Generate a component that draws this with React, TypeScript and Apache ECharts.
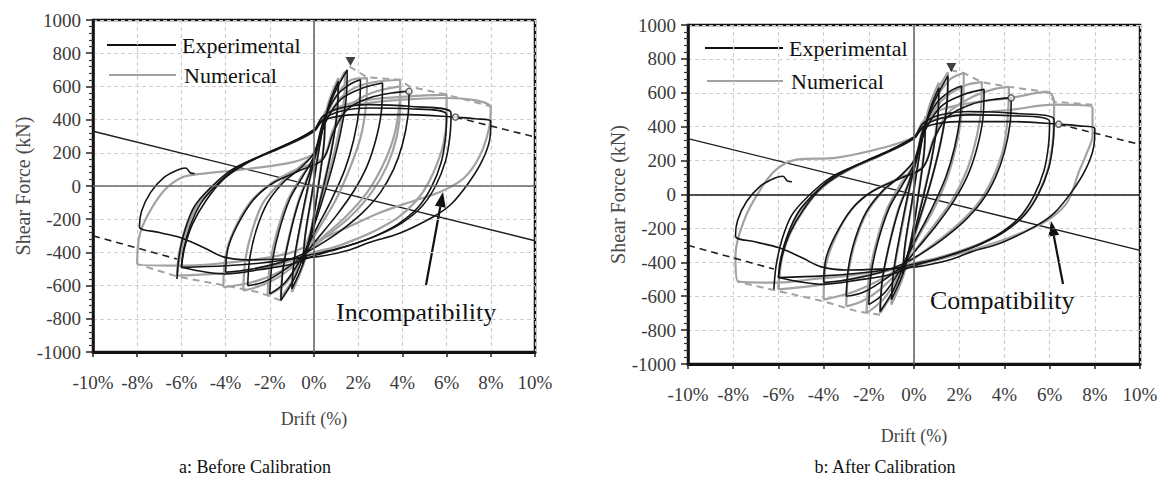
import React, { useEffect, useRef } from "react";
import * as echarts from "echarts";

type Pt = [number, number];

// Axis ticks (drift in %, shear force in kN)
const DRIFT_TICKS = [-10, -8, -6, -4, -2, 0, 2, 4, 6, 8, 10];
const FORCE_TICKS = [-1000, -800, -600, -400, -200, 0, 200, 400, 600, 800, 1000];

// Experimental hysteresis cycles (drift %, force kN)
const EXP_CYCLE_05: Pt[] = [[-0.5, -470], [-0.4, -300], [-0.1, -50], [0.2, 200], [0.5, 430], [0.45, 250], [0.2, 0], [-0.1, -250], [-0.5, -470]];
const EXP_CYCLE_1: Pt[] = [[-1.0, -620], [-0.9, -450], [-0.6, -220], [-0.2, 40], [0.3, 300], [0.7, 500], [1.1, 630], [1.05, 450], [0.8, 220], [0.4, -20], [-0.1, -280], [-0.5, -470], [-1.0, -620]];
const EXP_CYCLE_15: Pt[] = [[-1.5, -690], [-1.4, -500], [-1.1, -300], [-0.7, -100], [-0.2, 80], [0.3, 300], [0.8, 520], [1.5, 700], [1.45, 520], [1.2, 320], [0.8, 100], [0.3, -120], [-0.3, -360], [-0.9, -560], [-1.5, -690]];
const EXP_CYCLE_2: Pt[] = [[-2.0, -650], [-1.9, -470], [-1.6, -280], [-1.1, -80], [-0.5, 60], [0, 180], [0.4, 380], [1.0, 540], [1.6, 610], [2.1, 640], [2.05, 470], [1.8, 280], [1.4, 100], [0.8, -80], [0.1, -260], [-0.6, -440], [-1.3, -580], [-2.0, -650]];
const EXP_CYCLE_3: Pt[] = [[-3.0, -600], [-2.9, -430], [-2.6, -260], [-2.1, -100], [-1.4, 20], [-0.6, 110], [0, 200], [0.5, 380], [1.2, 520], [2.2, 590], [3.1, 620], [3.05, 450], [2.8, 280], [2.4, 120], [1.8, -30], [1.0, -180], [0.2, -310], [-0.5, -420], [-1.5, -520], [-2.3, -580], [-3.0, -600]];
const EXP_CYCLE_4: Pt[] = [[-4.0, -520], [-3.9, -380], [-3.5, -245], [-2.75, -85], [-1.85, 18], [-0.6, 96], [0.4, 160], [0.9, 330], [1.5, 460], [2.5, 530], [3.5, 560], [4.3, 570], [4.25, 420], [4.0, 250], [3.6, 100], [3.0, -40], [2.2, -160], [1.2, -270], [0.3, -350], [-0.5, -410], [-1.5, -460], [-2.8, -500], [-4.0, -520]];
const EXP_CYCLE_6A: Pt[] = [[-6.2, -560], [-6.1, -420], [-5.85, -270], [-5.4, -120], [-4.6, 0], [-3.7, 100], [-2.6, 170], [-1.5, 230], [0, 330], [0.4, 400], [1.2, 450], [2.5, 470], [4.3, 465], [6.0, 430], [5.95, 290], [5.75, 140], [5.3, -10], [4.7, -130], [3.8, -230], [2.8, -300], [1.8, -350], [0.8, -390], [0, -420], [-1.0, -470], [-2.5, -505], [-4.0, -530], [-6.0, -490]];
const EXP_CYCLE_6B: Pt[] = [[-6.0, -490], [-5.9, -380], [-5.6, -240], [-5.1, -100], [-4.3, 20], [-3.5, 110], [-2.5, 175], [-1.4, 240], [0, 340], [0.4, 420], [1.2, 470], [2.5, 490], [4.3, 480], [6.2, 440], [6.15, 300], [5.95, 150], [5.5, 0], [4.9, -120], [4.0, -220], [3.0, -290], [2.0, -340], [1.0, -380], [0, -410], [-1.0, -440], [-2.5, -465], [-4.0, -480], [-6.0, -490]];
const EXP_CYCLE_FINAL: Pt[] = [[-6.0, -490], [-5.85, -370], [-5.5, -230], [-4.9, -90], [-4.1, 40], [-3.2, 125], [-2.1, 200], [-1.0, 265], [0, 340], [0.5, 400], [2, 430], [4.3, 430], [6.4, 415], [7.3, 405], [8.0, 390], [7.95, 280], [7.6, 150], [7.0, 20], [6.2, -110], [5.4, -185], [3.9, -283], [2.5, -340], [1.6, -385], [0.1, -427], [-1.5, -440], [-3, -445], [-4.1, -427], [-5.0, -370], [-6.0, -313], [-7.0, -280], [-7.9, -245], [-7.8, -150], [-7.4, -40], [-6.8, 50], [-6.2, 95], [-5.8, 108], [-5.6, 80], [-5.4, 75]];
const EXP_CYCLES = [EXP_CYCLE_05, EXP_CYCLE_1, EXP_CYCLE_15, EXP_CYCLE_2, EXP_CYCLE_3, EXP_CYCLE_4, EXP_CYCLE_6A, EXP_CYCLE_6B, EXP_CYCLE_FINAL];

// Numerical cycles, model before calibration
const NUM_BEFORE_05: Pt[] = [[-0.5, -480], [-0.4, -300], [-0.1, -60], [0.2, 210], [0.5, 450], [0.45, 260], [0.2, 10], [-0.1, -240], [-0.5, -480]];
const NUM_BEFORE_1: Pt[] = [[-1.0, -640], [-0.9, -460], [-0.6, -230], [-0.2, 30], [0.3, 310], [0.7, 520], [1.1, 650], [1.05, 460], [0.8, 230], [0.4, -10], [-0.1, -290], [-0.5, -480], [-1.0, -640]];
const NUM_BEFORE_15: Pt[] = [[-1.5, -670], [-1.4, -490], [-1.1, -290], [-0.7, -90], [-0.2, 90], [0.3, 310], [0.8, 530], [1.4, 690], [1.35, 510], [1.1, 310], [0.7, 90], [0.2, -130], [-0.4, -370], [-0.9, -550], [-1.5, -670]];
const NUM_BEFORE_2: Pt[] = [[-2.1, -660], [-2.0, -480], [-1.7, -290], [-1.2, -90], [-0.6, 50], [0, 170], [0.4, 370], [1.0, 540], [1.7, 640], [2.4, 650], [2.35, 480], [2.1, 290], [1.6, 100], [1.0, -80], [0.2, -260], [-0.6, -450], [-1.3, -590], [-2.1, -660]];
const NUM_BEFORE_3: Pt[] = [[-3.2, -630], [-3.1, -440], [-2.8, -270], [-2.3, -100], [-1.5, 20], [-0.7, 110], [0, 200], [0.5, 380], [1.2, 530], [2.2, 610], [3.9, 640], [3.85, 470], [3.6, 290], [3.1, 120], [2.4, -40], [1.4, -190], [0.3, -320], [-0.5, -430], [-1.5, -540], [-2.4, -600], [-3.2, -630]];
const NUM_BEFORE_4: Pt[] = [[-4.1, -610], [-4.0, -420], [-3.6, -260], [-2.9, -100], [-2.0, 10], [-0.8, 100], [0.4, 170], [0.9, 350], [1.6, 480], [2.6, 560], [3.9, 600], [3.9, 480], [3.75, 300], [3.3, 120], [2.6, -40], [1.6, -190], [0.4, -320], [-0.5, -420], [-1.6, -520], [-2.8, -580], [-4.1, -610]];
const NUM_BEFORE_6: Pt[] = [[-6.2, -540], [-6.1, -400], [-5.8, -250], [-5.3, -110], [-4.5, 10], [-3.6, 100], [-2.6, 170], [-1.5, 230], [0, 330], [0.4, 420], [1.2, 480], [2.5, 520], [4.3, 540], [6.0, 550], [6.0, 420], [5.85, 250], [5.4, 80], [4.8, -60], [3.9, -180], [2.9, -260], [1.9, -320], [0.9, -370], [0, -400], [-1.0, -450], [-2.5, -500], [-4.0, -525], [-6.2, -540]];
const NUM_BEFORE_8: Pt[] = [[-6.2, -540], [-6.0, -380], [-5.7, -240], [-5.2, -100], [-4.4, 20], [-3.5, 110], [-2.4, 180], [-1.2, 250], [0, 330], [0.5, 430], [2, 490], [4, 520], [6, 530], [8.0, 470], [7.9, 337], [7.5, 180], [6.8, 50], [5.8, -30], [4.5, -90], [3.0, -160], [1.5, -250], [0, -340], [-1.0, -400], [-2.5, -440], [-4.5, -470], [-6.2, -480], [-8.0, -470], [-7.9, -300], [-7.5, -170], [-6.8, -30], [-6.0, 50], [-5.0, 75], [-3.5, 95], [-2.0, 120], [-0.9, 145], [0, 190]];
const NUM_BEFORE_CYCLES = [NUM_BEFORE_05, NUM_BEFORE_1, NUM_BEFORE_15, NUM_BEFORE_2, NUM_BEFORE_3, NUM_BEFORE_4, NUM_BEFORE_6, NUM_BEFORE_8];
const NUM_BEFORE_ENV_POS: Pt[] = [[1.6, 720], [2.4, 655], [3.9, 640], [4.3, 600], [6.0, 550], [8.0, 480]];
const NUM_BEFORE_ENV_NEG: Pt[] = [[-1.5, -690], [-2.5, -640], [-4.0, -600], [-6.2, -545], [-8.0, -470]];

// Numerical cycles, model after calibration
const NUM_AFTER_05: Pt[] = [[-0.5, -490], [-0.4, -310], [-0.1, -60], [0.2, 210], [0.5, 460], [0.45, 260], [0.2, 10], [-0.1, -250], [-0.5, -490]];
const NUM_AFTER_1: Pt[] = [[-1.0, -650], [-0.9, -470], [-0.6, -240], [-0.2, 30], [0.3, 310], [0.7, 530], [1.1, 660], [1.05, 470], [0.8, 230], [0.4, -10], [-0.1, -290], [-0.5, -490], [-1.0, -650]];
const NUM_AFTER_15: Pt[] = [[-1.5, -700], [-1.4, -510], [-1.1, -300], [-0.7, -90], [-0.2, 90], [0.3, 320], [0.8, 550], [1.5, 720], [1.45, 530], [1.2, 320], [0.8, 100], [0.3, -130], [-0.3, -380], [-0.9, -570], [-1.5, -700]];
const NUM_AFTER_2: Pt[] = [[-2.1, -700], [-2.0, -500], [-1.7, -300], [-1.2, -90], [-0.6, 60], [0, 180], [0.4, 390], [1.0, 570], [1.6, 680], [2.2, 717], [2.15, 520], [1.9, 310], [1.5, 110], [0.9, -80], [0.1, -270], [-0.6, -460], [-1.3, -610], [-2.1, -700]];
const NUM_AFTER_3: Pt[] = [[-3.0, -660], [-2.9, -460], [-2.6, -280], [-2.1, -110], [-1.4, 15], [-0.6, 110], [0, 200], [0.5, 390], [1.2, 550], [2.2, 640], [3.0, 663], [2.95, 480], [2.7, 300], [2.3, 130], [1.7, -30], [0.9, -180], [0.1, -320], [-0.6, -440], [-1.5, -560], [-2.3, -630], [-3.0, -660]];
const NUM_AFTER_4: Pt[] = [[-4.0, -620], [-3.9, -420], [-3.5, -260], [-2.8, -95], [-1.9, 15], [-0.6, 100], [0.4, 165], [0.9, 340], [1.5, 480], [2.5, 570], [3.5, 620], [4.2, 635], [4.15, 460], [3.95, 270], [3.5, 100], [2.9, -40], [2.0, -170], [1.0, -280], [0.2, -360], [-0.6, -430], [-1.6, -510], [-2.8, -580], [-4.0, -620]];
const NUM_AFTER_6: Pt[] = [[-6.0, -560], [-5.9, -400], [-5.6, -250], [-5.1, -105], [-4.3, 15], [-3.5, 105], [-2.5, 170], [-1.4, 235], [0, 335], [0.4, 430], [1.2, 500], [2.5, 540], [4.3, 570], [5.9, 605], [6.2, 547], [6.15, 330], [5.95, 160], [5.5, 5], [4.9, -115], [4.0, -215], [3.0, -285], [2.0, -335], [1.0, -375], [0, -405], [-1.0, -445], [-2.5, -490], [-4.0, -530], [-6.0, -560]];
const NUM_AFTER_8: Pt[] = [[-6.0, -560], [-5.85, -380], [-5.5, -235], [-4.9, -95], [-4.1, 35], [-3.2, 120], [-2.1, 195], [-1.0, 262], [0, 335], [0.5, 420], [2, 470], [4.3, 500], [6.2, 530], [7.9, 512], [7.9, 353], [7.6, 230], [7.3, 135], [6.8, -41], [6.1, -135], [5.3, -194], [4.0, -265], [2.5, -330], [1.2, -380], [0, -420], [-1.5, -450], [-3, -480], [-4.5, -500], [-6.0, -520], [-7.8, -512], [-7.9, -365], [-7.5, -147], [-6.8, 29], [-6.1, 147], [-5.2, 206], [-3.4, 218], [-1.2, 282], [0.1, 341]];
const NUM_AFTER_CYCLES = [NUM_AFTER_05, NUM_AFTER_1, NUM_AFTER_15, NUM_AFTER_2, NUM_AFTER_3, NUM_AFTER_4, NUM_AFTER_6, NUM_AFTER_8];
const NUM_AFTER_ENV_POS: Pt[] = [[1.6, 735], [2.2, 717], [3.0, 663], [4.2, 635], [5.9, 605], [6.2, 547], [7.9, 530]];
const NUM_AFTER_ENV_NEG: Pt[] = [[-1.5, -710], [-2.5, -690], [-4.0, -630], [-6.0, -570], [-7.8, -515]];

// Backbone extrapolations and reference line (shared by both panels)
const EXP_BACKBONE_POS: Pt[] = [[6.4, 415], [10, 295]];
const EXP_BACKBONE_NEG: Pt[] = [[-10, -300], [-6.2, -440]];
const REFERENCE_LINE: Pt[] = [[-10, 330], [10, -330]];
const PEAK_POINT: Pt[] = [[1.65, 750]];
const BACKBONE_POINTS: Pt[] = [[4.3, 570], [6.4, 415]];

const SERIF = "Liberation Serif";
const EXP_COLOR = "#151515";
const NUM_COLOR = "#a2a2a2";

function lineSeries(data: Pt[], idx: number, color: string, width: number, dashed = false, smooth: number | boolean = 0.35): any {
  return {
    type: "line",
    xAxisIndex: idx,
    yAxisIndex: idx,
    data,
    symbol: "none",
    showSymbol: false,
    smooth,
    silent: true,
    lineStyle: { color, width, type: dashed ? [7, 5] : "solid" },
  };
}

function panelSeries(idx: number, numCycles: Pt[][], envPos: Pt[], envNeg: Pt[], zeroColor: string): any[] {
  const out: any[] = [];
  // reference line, with the zero axes drawn as mark lines
  out.push({
    ...lineSeries(REFERENCE_LINE, idx, "#1e1e1e", 1.4, false, false),
    markLine: {
      silent: true,
      symbol: "none",
      label: { show: false },
      data: [
        { yAxis: 0, lineStyle: { color: zeroColor, width: 1.6, type: "solid" } },
        { xAxis: 0, lineStyle: { color: "#6a6a6a", width: 1.6, type: "solid" } },
      ],
    },
  });
  numCycles.forEach((c) => out.push(lineSeries(c, idx, NUM_COLOR, 2.2)));
  out.push(lineSeries(envPos, idx, NUM_COLOR, 2, true, false));
  out.push(lineSeries(envNeg, idx, NUM_COLOR, 2, true, false));
  EXP_CYCLES.forEach((c) => out.push(lineSeries(c, idx, EXP_COLOR, 1.6)));
  out.push(lineSeries(EXP_BACKBONE_POS, idx, "#222", 1.6, true, false));
  out.push(lineSeries(EXP_BACKBONE_NEG, idx, "#222", 1.6, true, false));
  out.push({
    type: "scatter",
    xAxisIndex: idx,
    yAxisIndex: idx,
    data: PEAK_POINT,
    symbol: "triangle",
    symbolRotate: 180,
    symbolSize: [10, 9],
    silent: true,
    itemStyle: { color: "#111" },
    z: 5,
  });
  out.push({
    type: "scatter",
    xAxisIndex: idx,
    yAxisIndex: idx,
    data: BACKBONE_POINTS,
    symbol: "circle",
    symbolSize: 6,
    silent: true,
    itemStyle: { color: "#fff", borderColor: "#444", borderWidth: 1.5 },
    z: 5,
  });
  return out;
}

function xAxisCfg(gridIndex: number, nameGap: number): any {
  return {
    type: "value",
    gridIndex,
    min: DRIFT_TICKS[0],
    max: DRIFT_TICKS[DRIFT_TICKS.length - 1],
    interval: DRIFT_TICKS[1] - DRIFT_TICKS[0],
    axisLine: { onZero: false, lineStyle: { color: "#111", width: 3 } },
    axisTick: { show: true, length: 5, lineStyle: { color: "#222", width: 1.5 } },
    axisLabel: { fontFamily: SERIF, fontSize: 19, color: "#3a3a3a", margin: 21, formatter: (v: number) => `${v}%` },
    splitLine: { show: true, lineStyle: { color: "#cfcfcf", width: 1.2, type: [4, 3] } },
    name: "Drift (%)",
    nameLocation: "middle",
    nameGap,
    nameTextStyle: { fontFamily: SERIF, fontSize: 18, color: "#444" },
  };
}

function yAxisCfg(gridIndex: number): any {
  return {
    type: "value",
    gridIndex,
    min: FORCE_TICKS[0],
    max: FORCE_TICKS[FORCE_TICKS.length - 1],
    interval: FORCE_TICKS[1] - FORCE_TICKS[0],
    axisLine: { onZero: false, lineStyle: { color: "#111", width: 2.5 } },
    axisTick: { show: true, length: 7, lineStyle: { color: "#222", width: 1.5 } },
    minorTick: { show: true, splitNumber: 5, length: 4, lineStyle: { color: "#333", width: 1.2 } },
    axisLabel: { fontFamily: SERIF, fontSize: 19, color: "#3a3a3a", margin: 12, formatter: (v: number) => String(v) },
    splitLine: { show: true, lineStyle: { color: "#cfcfcf", width: 1.2, type: [4, 3] } },
    name: "Shear Force (kN)",
    nameLocation: "middle",
    nameGap: 60,
    nameRotate: 90,
    nameTextStyle: { fontFamily: SERIF, fontSize: 20, color: "#4a4a4a" },
  };
}

function txt(x: number, y: number, text: string, size: number, align = "left", color = "#111"): any {
  return {
    type: "text",
    x,
    y,
    silent: true,
    style: {
      text,
      fontFamily: SERIF,
      fontSize: size,
      fill: color,
      align,
      textAlign: align,
      verticalAlign: "middle",
      textVerticalAlign: "middle",
    },
  };
}

function arrow(x1: number, y1: number, x2: number, y2: number): any[] {
  const dx = x2 - x1;
  const dy = y2 - y1;
  const len = Math.sqrt(dx * dx + dy * dy);
  const ux = dx / len;
  const uy = dy / len;
  const head = 15;
  const half = 5.5;
  const bx = x2 - ux * head;
  const by = y2 - uy * head;
  return [
    { type: "line", silent: true, shape: { x1, y1, x2: bx, y2: by }, style: { stroke: "#111", lineWidth: 2.2 } },
    {
      type: "polygon",
      silent: true,
      shape: { points: [[x2, y2], [bx - uy * half, by + ux * half], [bx + uy * half, by - ux * half]] },
      style: { fill: "#111" },
    },
  ];
}

function legend(x: number, y1: number, y2: number, lineEnd: number, textX: number): any[] {
  return [
    { type: "line", silent: true, shape: { x1: x, y1, x2: lineEnd, y2: y1 }, style: { stroke: "#111", lineWidth: 2 } },
    txt(textX, y1, "Experimental", 22),
    { type: "line", silent: true, shape: { x1: x + 2, y1: y2, x2: lineEnd, y2 }, style: { stroke: NUM_COLOR, lineWidth: 2 } },
    txt(textX + 2, y2, "Numerical", 22),
  ];
}

export default function App() {
  const ref = useRef<HTMLDivElement>(null);

  useEffect(() => {
    if (!ref.current) return;
    const chart = echarts.init(ref.current, undefined, { renderer: "svg" });
    chart.setOption({
      animation: false,
      backgroundColor: "#ffffff",
      textStyle: { fontFamily: SERIF },
      grid: [
        { left: 93, top: 20, width: 442, height: 332, show: true, borderColor: "#111", borderWidth: 2.5 },
        { left: 688, top: 25, width: 452, height: 339, show: true, borderColor: "#111", borderWidth: 2.5 },
      ],
      xAxis: [xAxisCfg(0, 58), xAxisCfg(1, 63)],
      yAxis: [yAxisCfg(0), yAxisCfg(1)],
      series: [
        ...panelSeries(0, NUM_BEFORE_CYCLES, NUM_BEFORE_ENV_POS, NUM_BEFORE_ENV_NEG, "#6a6a6a"),
        ...panelSeries(1, NUM_AFTER_CYCLES, NUM_AFTER_ENV_POS, NUM_AFTER_ENV_NEG, "#1a1a1a"),
      ],
      graphic: [
        ...legend(107, 45, 75, 176, 182),
        ...legend(705, 48, 81, 783, 789),
        txt(336, 312, "Incompatibility", 26),
        ...arrow(426, 285, 443, 192),
        txt(930, 300, "Compatibility", 26),
        ...arrow(1063, 284, 1051, 221),
        txt(255, 467, "a: Before Calibration", 18, "center"),
        txt(885, 467, "b: After Calibration", 18, "center"),
      ],
    });
    return () => chart.dispose();
  }, []);

  return (
    <div
      ref={ref}
      style={{ position: "fixed", left: 0, top: 0, width: 1165, height: 489, background: "#fff" }}
    />
  );
}
